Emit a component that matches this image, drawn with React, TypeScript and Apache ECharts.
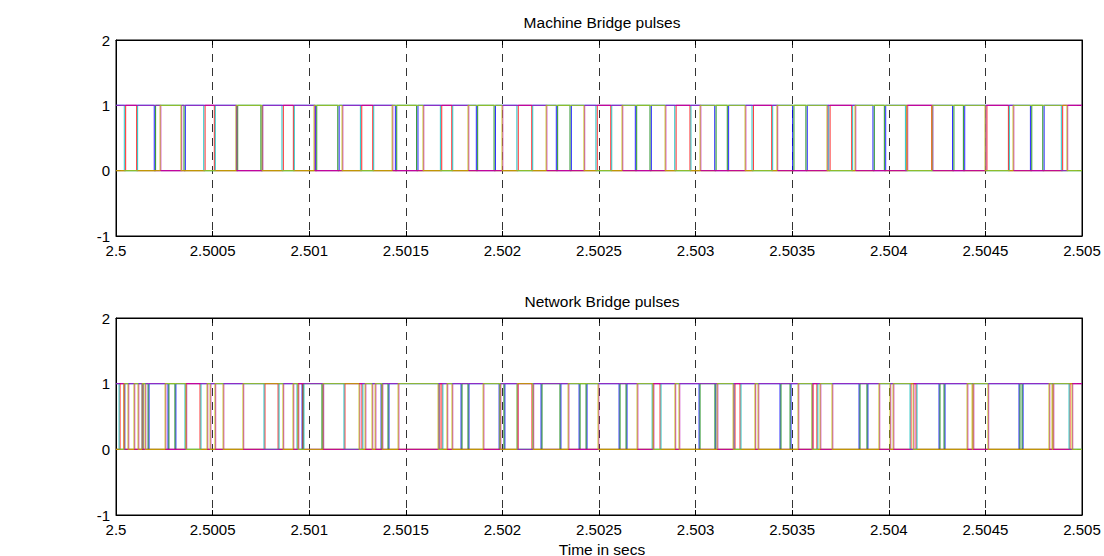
import React, { useEffect, useRef } from "react";
import * as echarts from "echarts";

// Time axis (seconds)
const X_MIN = 2.5;
const X_MAX = 2.505;
const X_STEP = 0.0005;
const Y_MIN = -1;
const Y_MAX = 2;

const titles = ["Machine Bridge pulses", "Network Bridge pulses"];
const xAxisName = "Time in secs";

// Pulse switching instants, in microseconds after 2.5 s; each signal starts at the given level and toggles at each instant
const machineBlueStart = 1;
const machineBlue = [198, 359, 623, 757, 1032, 1155, 1446, 1563, 1865, 1964, 2279, 2357, 2688, 2771, 3099, 3171, 3502, 3578, 3918, 3984, 4330, 4393, 4733, 4804];
const machineGreenStart = 0;
const machineGreen = [205, 352, 630, 750, 1039, 1148, 1453, 1556, 1872, 1957, 2286, 2350, 2695, 2764, 3106, 3164, 3509, 3571, 3925, 3977, 4337, 4386, 4740, 4797];
const machineRedStart = 0;
const machineRed = [50, 107, 461, 509, 866, 918, 1272, 1329, 1686, 1738, 2082, 2152, 2491, 2561, 2899, 2971, 3299, 3394, 3696, 3808, 4093, 4222, 4508, 4619, 4900];
const machineCyanStart = 1;
const machineCyan = [43, 112, 454, 514, 859, 923, 1265, 1334, 1679, 1743, 2075, 2157, 2484, 2566, 2892, 2976, 3292, 3399, 3689, 3813, 4086, 4227, 4501, 4624, 4893];
const machineMagentaStart = 1;
const machineMagenta = [232, 340, 625, 760, 1029, 1174, 1433, 1593, 1826, 2002, 2230, 2426, 2623, 2846, 3027, 3260, 3425, 3684, 3829, 4098, 4228, 4502, 4647, 4926];
const machineYellowStart = 0;
const machineYellow = [228, 336, 621, 756, 1025, 1170, 1429, 1589, 1822, 1998, 2226, 2422, 2619, 2842, 3023, 3256, 3421, 3680, 3825, 4094, 4224, 4498, 4643, 4922];

const networkBlueStart = 1;
const networkBlue = [135, 171, 269, 310, 963, 1071, 1372, 1413, 1786, 1827, 1983, 2013, 2200, 2303, 2397, 2438, 2604, 2645, 3018, 3105, 3437, 3494, 3846, 3892, 4260, 4291, 4674, 4695];
const networkGreenStart = 0;
const networkGreen = [140, 166, 274, 305, 968, 1066, 1377, 1408, 1791, 1822, 1988, 2008, 2205, 2298, 2402, 2433, 2609, 2640, 3023, 3100, 3442, 3489, 3851, 3887, 4265, 4286, 4679, 4690];
const networkRedStart = 0;
const networkRed = [21, 41, 362, 435, 771, 839, 942, 968, 1185, 1273, 1677, 1687, 2081, 2153, 2780, 2816, 3204, 3230, 3608, 3628, 4115, 4141, 4938];
const networkCyanStart = 1;
const networkCyan = [16, 46, 357, 440, 766, 844, 937, 973, 1180, 1278, 1672, 1692, 2076, 2158, 2775, 2821, 3199, 3235, 3603, 3633, 4110, 4146, 4933];
const networkMagentaStart = 1;
const networkMagenta = [45, 66, 97, 118, 139, 154, 258, 366, 475, 491, 516, 558, 661, 868, 920, 946, 1075, 1262, 1293, 1329, 1345, 1381, 1464, 1671, 1717, 1743, 1904, 1992, 2080, 2162, 2344, 2499, 2701, 2784, 2897, 2918, 3115, 3198, 3311, 3327, 3534, 3606, 3648, 3710, 3953, 4010, 4026, 4130, 4409, 4435, 4440, 4517, 4833, 4849, 4854, 4952];
const networkYellowStart = 0;
const networkYellow = [41, 62, 93, 114, 135, 150, 254, 362, 471, 487, 512, 554, 657, 864, 916, 942, 1071, 1258, 1289, 1325, 1341, 1377, 1460, 1667, 1713, 1739, 1900, 1988, 2076, 2158, 2340, 2495, 2697, 2780, 2893, 2914, 3111, 3194, 3307, 3323, 3530, 3602, 3644, 3706, 3949, 4006, 4022, 4126, 4405, 4431, 4436, 4513, 4829, 4845, 4850, 4948];

const COLORS = {
  blue: "#0000ff",
  green: "#008000",
  red: "#ff0000",
  cyan: "#00bfbf",
  magenta: "#bf00bf",
  yellow: "#bfbf00",
};

function steps(start: number, toggles: number[]): [number, number][] {
  const pts: [number, number][] = [[X_MIN, start]];
  let v = start;
  for (const us of toggles) {
    const x = X_MIN + us * 1e-6;
    pts.push([x, v]);
    v = 1 - v;
    pts.push([x, v]);
  }
  pts.push([X_MAX, v]);
  return pts;
}

const FONT = "'Liberation Sans', Arial, Helvetica, sans-serif";

export default function App() {
  const ref = useRef<HTMLDivElement>(null);
  useEffect(() => {
    document.body.style.margin = "0";
    if (!ref.current) return;
    const chart = echarts.init(ref.current, undefined, { renderer: "svg" });

    const grids = [
      { left: 116, top: 40, width: 966, height: 196 },
      { left: 116, top: 318, width: 966, height: 197 },
    ];

    const xAxes: any[] = [];
    const yAxes: any[] = [];
    grids.forEach((_, gi) => {
      xAxes.push({
        type: "value",
        gridIndex: gi,
        min: X_MIN,
        max: X_MAX,
        interval: X_STEP,
        position: "bottom",
        axisLine: { show: true, onZero: false, lineStyle: { color: "#000", width: 1 } },
        axisTick: { show: true, inside: true, length: 5, lineStyle: { color: "#000" } },
        axisLabel: {
          color: "#000",
          fontSize: 15,
          fontFamily: FONT,
          margin: 7,
          formatter: (v: number) => String(+v.toFixed(4)),
        },
        splitLine: { show: true, lineStyle: { color: "#333", width: 1, type: [8, 6] } },
      });
      xAxes.push({
        type: "value",
        gridIndex: gi,
        min: X_MIN,
        max: X_MAX,
        interval: X_STEP,
        position: "top",
        axisLine: { show: true, onZero: false, lineStyle: { color: "#000", width: 1 } },
        axisTick: { show: true, inside: true, length: 5, lineStyle: { color: "#000" } },
        axisLabel: { show: false },
        splitLine: { show: false },
      });
      yAxes.push({
        type: "value",
        gridIndex: gi,
        min: Y_MIN,
        max: Y_MAX,
        interval: 1,
        position: "left",
        axisLine: { show: true, onZero: false, lineStyle: { color: "#000", width: 1 } },
        axisTick: { show: true, inside: true, length: 5, lineStyle: { color: "#000" } },
        axisLabel: { color: "#000", fontSize: 15, fontFamily: FONT, margin: 6 },
        splitLine: { show: false },
      });
      yAxes.push({
        type: "value",
        gridIndex: gi,
        min: Y_MIN,
        max: Y_MAX,
        interval: 1,
        position: "right",
        axisLine: { show: true, onZero: false, lineStyle: { color: "#000", width: 1 } },
        axisTick: { show: true, inside: true, length: 5, lineStyle: { color: "#000" } },
        axisLabel: { show: false },
        splitLine: { show: false },
      });
    });

    const mk = (name: string, color: string, data: [number, number][], gi: number) => ({
      name,
      type: "line",
      xAxisIndex: gi * 2,
      yAxisIndex: gi * 2,
      data,
      showSymbol: false,
      symbol: "none",
      silent: true,
      lineStyle: { color, width: 1, opacity: 0.85 },
      itemStyle: { color },
    });

    const series = [
      mk("m-blue", COLORS.blue, steps(machineBlueStart, machineBlue), 0),
      mk("m-green", COLORS.green, steps(machineGreenStart, machineGreen), 0),
      mk("m-red", COLORS.red, steps(machineRedStart, machineRed), 0),
      mk("m-cyan", COLORS.cyan, steps(machineCyanStart, machineCyan), 0),
      mk("m-magenta", COLORS.magenta, steps(machineMagentaStart, machineMagenta), 0),
      mk("m-yellow", COLORS.yellow, steps(machineYellowStart, machineYellow), 0),
      mk("n-blue", COLORS.blue, steps(networkBlueStart, networkBlue), 1),
      mk("n-green", COLORS.green, steps(networkGreenStart, networkGreen), 1),
      mk("n-red", COLORS.red, steps(networkRedStart, networkRed), 1),
      mk("n-cyan", COLORS.cyan, steps(networkCyanStart, networkCyan), 1),
      mk("n-magenta", COLORS.magenta, steps(networkMagentaStart, networkMagenta), 1),
      mk("n-yellow", COLORS.yellow, steps(networkYellowStart, networkYellow), 1),
    ];

    const titleStyle = { fontSize: 15.5, fontWeight: "normal", color: "#000", fontFamily: FONT };

    chart.setOption({
      animation: false,
      backgroundColor: "#fff",
      grid: grids.map((g) => ({
        ...g,
        show: true,
        backgroundColor: "#fff",
        borderColor: "#000",
        borderWidth: 1,
        containLabel: false,
      })),
      title: [
        { text: titles[0], left: 597, top: 9, textAlign: "center", textStyle: titleStyle },
        { text: titles[1], left: 597, top: 288, textAlign: "center", textStyle: titleStyle },
        { text: xAxisName, left: 597, top: 536, textAlign: "center", textStyle: titleStyle },
      ],
      xAxis: xAxes,
      yAxis: yAxes,
      series,
    });

    return () => chart.dispose();
  }, []);
  return <div ref={ref} style={{ width: 1104, height: 556 }} />;
}
